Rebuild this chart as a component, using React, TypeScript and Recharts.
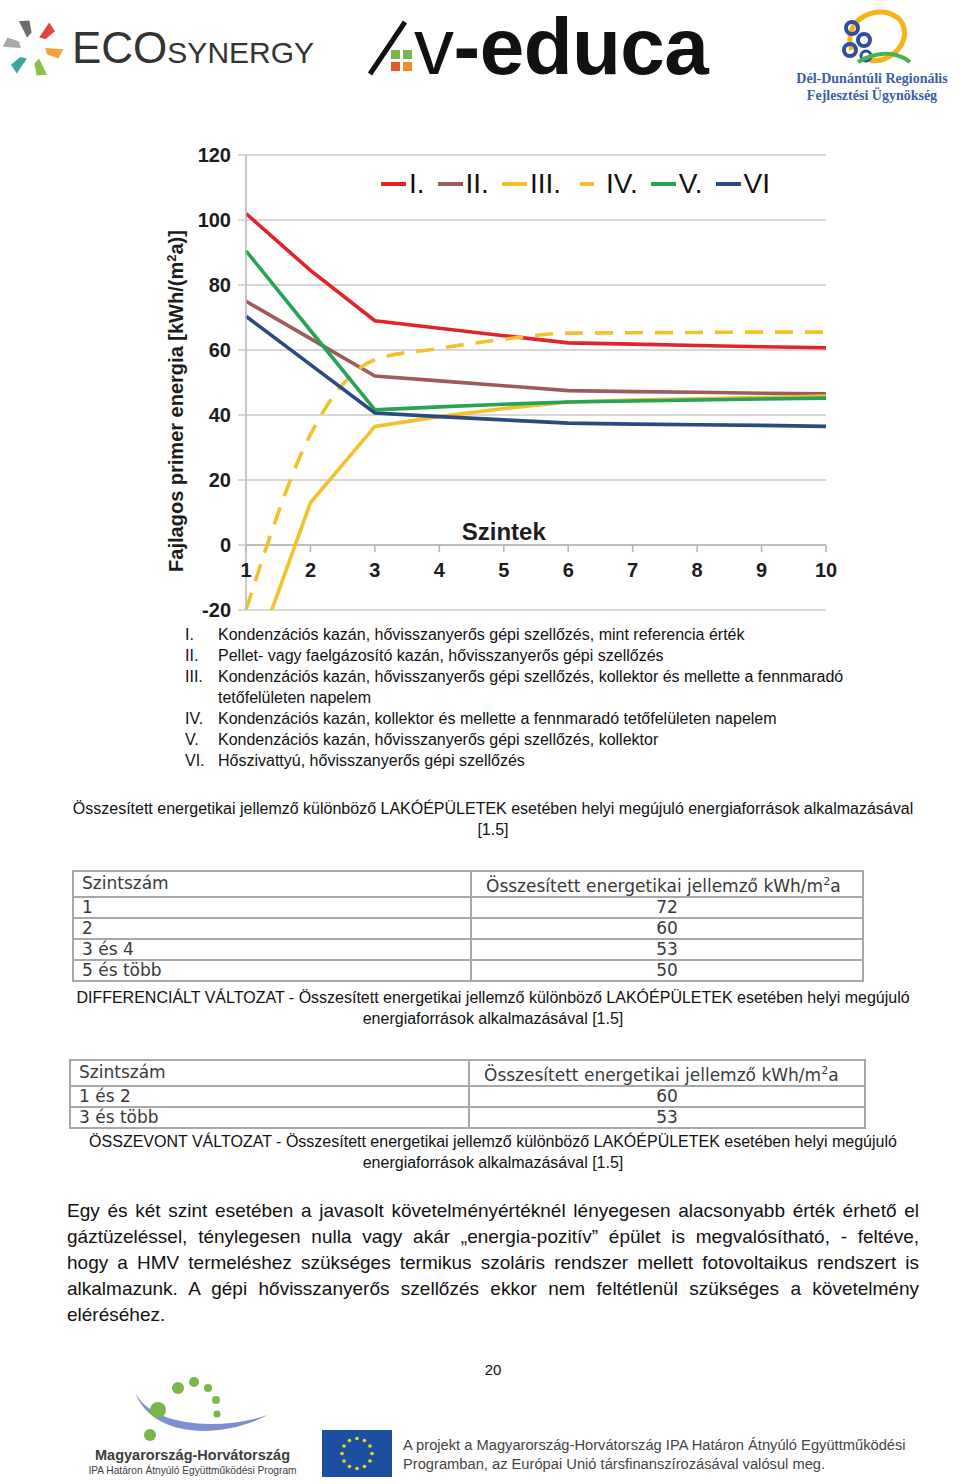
import React from "react";
import { LineChart, Line, XAxis, YAxis, CartesianGrid, ReferenceLine, ReferenceDot } from "recharts";

// Szintek (number of storeys) on the x axis
const levels = [1, 2, 3, 4, 5, 6, 7, 8, 9, 10];
const yTicks = [-20, 0, 20, 40, 60, 80, 100, 120];

// Fajlagos primer energia [kWh/(m2a)] per variant
const seriesI = [102, 84.5, 69, 66.7, 64.4, 62.2, 61.8, 61.4, 61, 60.7];
const seriesII = [75, 63.5, 52, 50.5, 49, 47.5, 47.2, 47, 46.7, 46.5];
const seriesIII = [-42, 13, 36.5, 39.5, 42, 44, 44.6, 45, 45.4, 45.8];
const seriesIV = [-20, 34, 57, 60.5, 63.3, 65.2, 65.3, 65.4, 65.5, 65.5];
const seriesV = [90.5, 66, 41.6, 42.5, 43.3, 44, 44.3, 44.6, 44.9, 45.2];
const seriesVI = [70.4, 55.5, 40.6, 39.5, 38.5, 37.5, 37.2, 37, 36.8, 36.5];

const seriesKeys = ["I", "II", "III", "IV", "V", "VI"];
const legendNames = ["I.", "II.", "III.", "IV.", "V.", "VI"];

const listNumerals = ["I.", "II.", "III.", "IV.", "V.", "VI."];
const listTexts = [
  ["Kondenzációs kazán, hővisszanyerős gépi szellőzés, mint referencia érték"],
  ["Pellet- vagy faelgázosító kazán, hővisszanyerős gépi szellőzés"],
  [
    "Kondenzációs kazán, hővisszanyerős gépi szellőzés, kollektor és mellette a fennmaradó",
    "tetőfelületen napelem",
  ],
  ["Kondenzációs kazán, kollektor és mellette a fennmaradó tetőfelületen napelem"],
  ["Kondenzációs kazán, hővisszanyerős gépi szellőzés, kollektor"],
  ["Hőszivattyú, hővisszanyerős gépi szellőzés"],
];

const table1Levels = ["1", "2", "3 és 4", "5 és több"];
const table1Values = [72, 60, 53, 50];
const table2Levels = ["1 és 2", "3 és több"];
const table2Values = [60, 53];

const paragraphLines = [
  "Egy és két szint esetében a javasolt követelményértéknél lényegesen alacsonyabb érték érhető el",
  "gáztüzeléssel, ténylegesen nulla vagy akár „energia-pozitív” épület is megvalósítható, - feltéve,",
  "hogy a HMV termeléshez szükséges termikus szoláris rendszer mellett fotovoltaikus rendszert is",
  "alkalmazunk. A gépi hővisszanyerős szellőzés ekkor nem feltétlenül szükséges a követelmény",
  "eléréséhez.",
];

const colors: Record<string, string> = {
  I: "#e3232c",
  II: "#9e5a5d",
  III: "#f2c12b",
  IV: "#f2c12b",
  V: "#25a553",
  VI: "#2a4a80",
};

const chartData = levels.map((level, i) => ({
  level,
  I: seriesI[i],
  II: seriesII[i],
  III: seriesIII[i],
  IV: seriesIV[i],
  V: seriesV[i],
  VI: seriesVI[i],
}));

const chartFont = "'Liberation Sans', Arial, sans-serif";
const docFont = "'Liberation Sans', Arial, sans-serif";

function XTick(props: any) {
  const { cx, cy, value } = props;
  if (cx == null || cy == null) return null;
  return (
    <g>
      <line x1={cx} y1={cy} x2={cx} y2={cy + 7} stroke="#b4b4b4" strokeWidth={1.5} />
      <text
        x={cx}
        y={cy + 32}
        textAnchor="middle"
        fontSize={20}
        fontWeight="bold"
        fontFamily={chartFont}
        fill="#1c1c1c"
      >
        {value}
      </text>
    </g>
  );
}

function ChartLegend() {
  return (
    <div
      style={{
        position: "absolute",
        left: 381,
        top: 167,
        display: "flex",
        alignItems: "center",
        fontFamily: chartFont,
        fontSize: 28,
        color: "#111",
        lineHeight: "34px",
        whiteSpace: "nowrap",
      }}
    >
      {seriesKeys.map((k, i) => (
        <div key={k} style={{ display: "flex", alignItems: "center", marginRight: 13 }}>
          {k === "IV" ? (
            <div style={{ width: 26, display: "flex", justifyContent: "center", marginRight: 6 }}>
              <div style={{ width: 14, height: 4, background: colors[k] }} />
            </div>
          ) : (
            <div style={{ width: 25, height: 4, background: colors[k], marginRight: 3 }} />
          )}
          <span>{legendNames[i]}</span>
        </div>
      ))}
    </div>
  );
}

function EnergyChart() {
  return (
    <div style={{ position: "absolute", left: 150, top: 130, width: 700, height: 500 }}>
      <LineChart
        width={700}
        height={500}
        data={chartData}
        margin={{ top: 25, right: 24, bottom: 20, left: 36 }}
      >
        <CartesianGrid vertical={false} stroke="#cbcbcb" strokeWidth={1.5} />
        <XAxis type="number" dataKey="level" domain={[1, 10]} ticks={levels} hide />
        <YAxis
          type="number"
          domain={[-20, 120]}
          ticks={yTicks}
          interval={0}
          allowDataOverflow
          width={60}
          tickSize={8}
          tickMargin={7}
          axisLine={{ stroke: "#b4b4b4", strokeWidth: 1.5 }}
          tickLine={{ stroke: "#cbcbcb", strokeWidth: 1.5 }}
          tick={{ fill: "#1c1c1c", fontSize: 20, fontWeight: "bold", fontFamily: chartFont }}
        />
        <ReferenceLine y={0} stroke="#b4b4b4" strokeWidth={1.5} />
        {levels.map((l) => (
          <ReferenceDot
            key={l}
            x={l}
            y={0}
            r={0}
            shape={(p: any) => <XTick {...p} value={l} />}
          />
        ))}
        <ReferenceDot
          x={5}
          y={0}
          r={0}
          shape={() => <g />}
          label={{
            value: "Szintek",
            position: "top",
            offset: 5,
            fontSize: 24,
            fontWeight: "bold",
            fontFamily: chartFont,
            fill: "#1c1c1c",
          }}
        />
        {seriesKeys.map((k) => (
          <Line
            key={k}
            dataKey={k}
            type={k === "IV" ? "monotone" : "linear"}
            stroke={colors[k]}
            strokeWidth={3.6}
            strokeDasharray={k === "IV" ? "18 12" : undefined}
            dot={false}
            activeDot={false}
            isAnimationActive={false}
          />
        ))}
      </LineChart>
      <div
        style={{
          position: "absolute",
          left: 26,
          top: 271,
          transform: "translate(-50%, -50%) rotate(-90deg)",
          whiteSpace: "nowrap",
          fontFamily: chartFont,
          fontWeight: "bold",
          fontSize: 20,
          color: "#1c1c1c",
        }}
      >
        Fajlagos primer energia [kWh/(m<sup style={{ fontSize: 13 }}>2</sup>a)]
      </div>
    </div>
  );
}

function Header() {
  const star = ["#6d6e71", "#e2453c", "#f0a340", "#8cc04b", "#3aa6a0", "#a7a9ac"];
  return (
    <>
      <svg style={{ position: "absolute", left: 0, top: 0 }} width={960} height={110}>
        {star.map((c, i) => (
          <g key={c} transform={`rotate(${i * 60 - 20} 33 48)`}>
            <polygon points="29,18 39,21 37,33 31,36" fill={c} />
          </g>
        ))}
        <line x1={370} y1={74} x2={405} y2={22} stroke="#111" strokeWidth={5} />
        <rect x={391} y={50} width={9} height={9} fill="#7ab648" />
        <rect x={403} y={50} width={9} height={9} fill="#7ab648" />
        <rect x={391} y={62} width={9} height={9} fill="#e0582c" />
        <rect x={403} y={62} width={9} height={9} fill="#f08a2c" />
        <path d="M852 50 C 840 20, 880 0, 900 20 C 915 40, 890 65, 870 60" fill="none" stroke="#f2b51c" strokeWidth={5} />
        <circle cx={852} cy={28} r={6} fill="none" stroke="#2f4ea3" strokeWidth={4} />
        <circle cx={864} cy={40} r={6} fill="none" stroke="#2f4ea3" strokeWidth={4} />
        <circle cx={850} cy={50} r={6} fill="none" stroke="#2f4ea3" strokeWidth={4} />
        <circle cx={866} cy={56} r={5} fill="none" stroke="#2f4ea3" strokeWidth={3} />
        <path d="M858 62 C 875 52, 895 50, 910 62" fill="none" stroke="#4caf50" strokeWidth={4} />
      </svg>
      <div
        style={{
          position: "absolute",
          left: 72,
          top: 25,
          fontFamily: docFont,
          color: "#333",
          whiteSpace: "nowrap",
          lineHeight: "46px",
        }}
      >
        <span style={{ fontSize: 44 }}>ECO</span>
        <span style={{ fontSize: 30 }}>SYNERGY</span>
      </div>
      <div
        style={{
          position: "absolute",
          left: 414,
          top: 2,
          fontFamily: docFont,
          color: "#111",
          whiteSpace: "nowrap",
          fontSize: 80,
          lineHeight: "90px",
          letterSpacing: -0.5,
        }}
      >
        <span>v</span>
        <span style={{ fontWeight: "bold" }}>-educa</span>
      </div>
      <div
        style={{
          position: "absolute",
          left: 782,
          top: 70,
          width: 180,
          textAlign: "center",
          fontFamily: "'Liberation Serif', serif",
          fontWeight: "bold",
          fontSize: 14,
          lineHeight: "17px",
          color: "#3b5ea6",
        }}
      >
        Dél-Dunántúli Regionális
        <br />
        Fejlesztési Ügynökség
      </div>
    </>
  );
}

function DataTable({ rows, values, left, top, width, split }: any) {
  const cell: React.CSSProperties = {
    border: "2px solid #a8a8a8",
    padding: "0 8px",
    height: 19,
    lineHeight: "19px",
  };
  return (
    <table
      style={{
        position: "absolute",
        left,
        top,
        width,
        borderCollapse: "collapse",
        fontFamily: "'DejaVu Sans', sans-serif",
        fontSize: 17,
        color: "#3a3a3a",
      }}
    >
      <tbody>
        <tr>
          <td style={{ ...cell, width: split }}>Szintszám</td>
          <td style={{ ...cell, paddingLeft: 14, whiteSpace: "nowrap" }}>
            Összesített energetikai jellemző kWh/m<sup style={{ fontSize: 11 }}>2</sup>a
          </td>
        </tr>
        {rows.map((r: string, i: number) => (
          <tr key={r}>
            <td style={cell}>{r}</td>
            <td style={{ ...cell, textAlign: "center" }}>{values[i]}</td>
          </tr>
        ))}
      </tbody>
    </table>
  );
}

function Caption({ top, lines }: { top: number; lines: string[] }) {
  return (
    <div
      style={{
        position: "absolute",
        left: 40,
        width: 906,
        top,
        textAlign: "center",
        fontFamily: docFont,
        fontSize: 16,
        lineHeight: "21px",
        color: "#111",
        whiteSpace: "nowrap",
      }}
    >
      {lines.map((l) => (
        <div key={l}>{l}</div>
      ))}
    </div>
  );
}

function Footer() {
  const stars = Array.from({ length: 12 }, (_, i) => i);
  return (
    <>
      <svg style={{ position: "absolute", left: 0, top: 1370 }} width={960} height={114}>
        <path d="M135 22 C 150 55, 215 62, 268 45 C 215 72, 150 65, 135 22 Z" fill="#7d8fd0" />
        <circle cx={150} cy={65} r={6} fill="#7ab648" />
        <circle cx={158} cy={40} r={8} fill="#7ab648" />
        <circle cx={178} cy={18} r={6} fill="#7ab648" />
        <circle cx={194} cy={12} r={5} fill="#7ab648" />
        <circle cx={208} cy={18} r={4} fill="#7ab648" />
        <circle cx={216} cy={30} r={4} fill="#7ab648" />
        <circle cx={217} cy={44} r={3.5} fill="#7ab648" />
        <rect x={322} y={60} width={70} height={47} fill="#1c4fa0" />
        {stars.map((i) => (
          <circle
            key={i}
            cx={357 + 15 * Math.cos((i * Math.PI) / 6)}
            cy={83.5 + 15 * Math.sin((i * Math.PI) / 6)}
            r={1.8}
            fill="#f5d51e"
          />
        ))}
      </svg>
      <div
        style={{
          position: "absolute",
          left: 60,
          width: 265,
          top: 1446,
          textAlign: "center",
          fontFamily: chartFont,
          color: "#3c3c3c",
          whiteSpace: "nowrap",
        }}
      >
        <div style={{ fontSize: 14.5, fontWeight: "bold", lineHeight: "18px" }}>Magyarország-Horvátország</div>
        <div style={{ fontSize: 10.2, lineHeight: "14px" }}>IPA Határon Átnyúló Együttműködési Program</div>
      </div>
      <div
        style={{
          position: "absolute",
          left: 403,
          top: 1436,
          fontFamily: chartFont,
          fontSize: 14.7,
          lineHeight: "19px",
          color: "#444",
          whiteSpace: "nowrap",
        }}
      >
        <div>A projekt a Magyarország-Horvátország IPA Határon Átnyúló Együttműködési</div>
        <div>Programban, az Európai Unió társfinanszírozásával valósul meg.</div>
      </div>
    </>
  );
}

export default function App() {
  return (
    <div
      style={{
        position: "absolute",
        left: 0,
        top: 0,
        width: 960,
        height: 1484,
        background: "#fff",
        overflow: "hidden",
        fontFamily: docFont,
      }}
    >
      <Header />
      <EnergyChart />
      <ChartLegend />

      <div
        style={{
          position: "absolute",
          left: 0,
          top: 624,
          fontFamily: docFont,
          fontSize: 16,
          lineHeight: "21px",
          color: "#111",
          whiteSpace: "nowrap",
        }}
      >
        {listTexts.map((lines, i) =>
          lines.map((t, j) => (
            <div key={`${i}-${j}`} style={{ position: "relative", height: 21 }}>
              {j === 0 && <span style={{ position: "absolute", left: 185 }}>{listNumerals[i]}</span>}
              <span style={{ position: "absolute", left: 218 }}>{t}</span>
            </div>
          ))
        )}
      </div>

      <Caption
        top={798}
        lines={[
          "Összesített energetikai jellemző különböző LAKÓÉPÜLETEK esetében helyi megújuló energiaforrások alkalmazásával",
          "[1.5]",
        ]}
      />
      <DataTable rows={table1Levels} values={table1Values} left={72} top={870} width={792} split={380} />
      <Caption
        top={987}
        lines={[
          "DIFFERENCIÁLT VÁLTOZAT - Összesített energetikai jellemző különböző LAKÓÉPÜLETEK esetében helyi megújuló",
          "energiaforrások alkalmazásával [1.5]",
        ]}
      />
      <DataTable rows={table2Levels} values={table2Values} left={69} top={1059} width={797} split={381} />
      <Caption
        top={1131}
        lines={[
          "ÖSSZEVONT VÁLTOZAT - Összesített energetikai jellemző különböző LAKÓÉPÜLETEK esetében helyi megújuló",
          "energiaforrások alkalmazásával [1.5]",
        ]}
      />

      <div
        style={{
          position: "absolute",
          left: 67,
          top: 1198,
          width: 852,
          fontFamily: docFont,
          fontSize: 19,
          lineHeight: "26px",
          color: "#111",
        }}
      >
        {paragraphLines.map((l, i) => (
          <div
            key={l}
            style={{
              textAlign: "justify",
              textAlignLast: i < paragraphLines.length - 1 ? "justify" : "left",
              whiteSpace: "nowrap",
            }}
          >
            {l}
          </div>
        ))}
      </div>

      <div
        style={{
          position: "absolute",
          left: 443,
          width: 100,
          top: 1360,
          textAlign: "center",
          fontSize: 15,
          lineHeight: "20px",
          color: "#111",
        }}
      >
        20
      </div>
      <Footer />
    </div>
  );
}
